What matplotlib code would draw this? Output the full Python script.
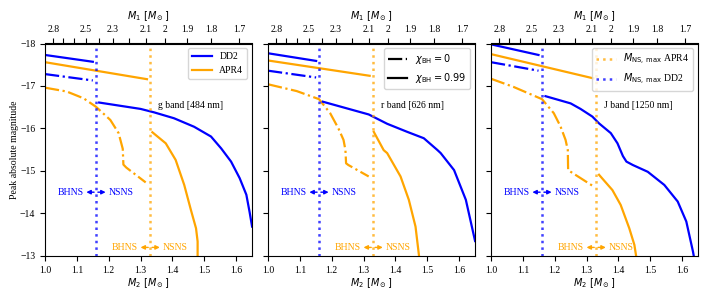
import numpy as np
import matplotlib
matplotlib.use('Agg')
import matplotlib.pyplot as plt

plt.rcParams['font.family'] = ['Liberation Serif', 'DejaVu Serif']
plt.rcParams['font.size'] = 7
plt.rcParams['mathtext.fontset'] = 'dejavusans'

# chirp mass used for the top axis (M1 <-> M2)
MC = 1.44

# thresholds M_NS,max expressed in M2
m2_max_dd2 = 1.16
m2_max_apr4 = 1.33

bands = ['g band [484 nm]', 'r band [626 nm]', 'J band [1250 nm]']

# --- g band ---
g_dd2_bh099_m2 = [1.0, 1.15]
g_dd2_bh099_mag = [-17.73, -17.57]
g_dd2_bh0_m2 = [1.0, 1.15]
g_dd2_bh0_mag = [-17.28, -17.13]
g_apr4_bh099_m2 = [1.0, 1.32]
g_apr4_bh099_mag = [-17.56, -17.16]
g_apr4_bh0_m2 = [1.0, 1.068, 1.121, 1.16, 1.205, 1.231, 1.244, 1.246, 1.255, 1.316]
g_apr4_bh0_mag = [-16.96, -16.87, -16.71, -16.51, -16.2, -15.89, -15.52, -15.15, -15.08, -14.73]
g_dd2_ns_m2 = [1.17, 1.30, 1.342, 1.405, 1.468, 1.521, 1.553, 1.584, 1.611, 1.632, 1.642, 1.65]
g_dd2_ns_mag = [-16.61, -16.46, -16.38, -16.24, -16.04, -15.81, -15.53, -15.22, -14.83, -14.44, -14.04, -13.69]
g_apr4_ns_m2 = [1.337, 1.379, 1.410, 1.437, 1.458, 1.474, 1.479, 1.479, 1.48]
g_apr4_ns_mag = [-15.91, -15.65, -15.26, -14.67, -14.08, -13.65, -13.34, -13.0, -12.8]

# --- r band ---
r_dd2_bh099_m2 = [1.0, 1.151]
r_dd2_bh099_mag = [-17.77, -17.59]
r_dd2_bh0_m2 = [1.0, 1.151]
r_dd2_bh0_mag = [-17.36, -17.20]
r_apr4_bh099_m2 = [1.0, 1.319]
r_apr4_bh099_mag = [-17.60, -17.24]
r_apr4_bh0_m2 = [1.0, 1.09, 1.16, 1.195, 1.221, 1.237, 1.243, 1.245, 1.252, 1.316]
r_apr4_bh0_mag = [-17.04, -16.88, -16.69, -16.36, -16.0, -15.73, -15.49, -15.18, -15.14, -14.87]
r_dd2_ns_m2 = [1.172, 1.316, 1.374, 1.437, 1.489, 1.532, 1.542, 1.584, 1.621, 1.65]
r_dd2_ns_mag = [-16.63, -16.33, -16.11, -15.92, -15.77, -15.49, -15.42, -15.02, -14.32, -13.35]
r_apr4_ns_m2 = [1.332, 1.363, 1.374, 1.416, 1.442, 1.463, 1.474, 1.478]
r_apr4_ns_mag = [-15.92, -15.49, -15.42, -14.87, -14.32, -13.69, -13.0, -12.8]

# --- J band ---
j_dd2_bh099_m2 = [1.0, 1.149]
j_dd2_bh099_mag = [-17.98, -17.73]
j_dd2_bh0_m2 = [1.0, 1.149]
j_dd2_bh0_mag = [-17.56, -17.36]
j_apr4_bh099_m2 = [1.0, 1.321]
j_apr4_bh099_mag = [-17.75, -17.18]
j_apr4_bh0_m2 = [1.0, 1.07, 1.16, 1.197, 1.218, 1.234, 1.241, 1.242, 1.25, 1.323]
j_apr4_bh0_mag = [-17.17, -16.98, -16.69, -16.36, -16.05, -15.73, -15.49, -15.02, -14.98, -14.63]
j_dd2_ns_m2 = [1.171, 1.25, 1.281, 1.318, 1.339, 1.376, 1.397, 1.414, 1.425, 1.445, 1.492, 1.544, 1.586, 1.613, 1.634, 1.64]
j_dd2_ns_mag = [-16.76, -16.59, -16.46, -16.28, -16.12, -15.89, -15.65, -15.35, -15.22, -15.14, -14.98, -14.67, -14.28, -13.81, -13.10, -12.85]
j_apr4_ns_m2 = [1.339, 1.381, 1.407, 1.434, 1.450, 1.455, 1.46]
j_apr4_ns_mag = [-14.91, -14.55, -14.20, -13.65, -13.26, -13.02, -12.85]

panels = [
    (g_dd2_bh099_m2, g_dd2_bh099_mag, g_dd2_bh0_m2, g_dd2_bh0_mag,
     g_apr4_bh099_m2, g_apr4_bh099_mag, g_apr4_bh0_m2, g_apr4_bh0_mag,
     g_dd2_ns_m2, g_dd2_ns_mag, g_apr4_ns_m2, g_apr4_ns_mag),
    (r_dd2_bh099_m2, r_dd2_bh099_mag, r_dd2_bh0_m2, r_dd2_bh0_mag,
     r_apr4_bh099_m2, r_apr4_bh099_mag, r_apr4_bh0_m2, r_apr4_bh0_mag,
     r_dd2_ns_m2, r_dd2_ns_mag, r_apr4_ns_m2, r_apr4_ns_mag),
    (j_dd2_bh099_m2, j_dd2_bh099_mag, j_dd2_bh0_m2, j_dd2_bh0_mag,
     j_apr4_bh099_m2, j_apr4_bh099_mag, j_apr4_bh0_m2, j_apr4_bh0_mag,
     j_dd2_ns_m2, j_dd2_ns_mag, j_apr4_ns_m2, j_apr4_ns_mag),
]

top_ticks = [2.8, 2.7, 2.6, 2.5, 2.4, 2.3, 2.2, 2.1, 2.0, 1.9, 1.8, 1.7]
top_labels = ['2.8', '', '', '2.5', '', '2.3', '', '2.1', '2', '1.9', '1.8', '1.7']
bottom_ticks = [1.0, 1.1, 1.2, 1.3, 1.4, 1.5, 1.6]

# partner mass at fixed chirp mass (the map is its own inverse)
q = np.linspace(0.2, 5, 4000)
m_a = MC * (1 + q) ** 0.2 / q ** 0.6
m_b = q * m_a


def partner(m):
    return np.interp(m, m_b, m_a)


fig, axes = plt.subplots(1, 3, sharey=True, figsize=(7.08, 3.0), dpi=100)
fig.subplots_adjust(left=0.0636, right=0.986, bottom=0.147, top=0.855, wspace=0.077)

lw = 1.6
for i, ax in enumerate(axes):
    (d99x, d99y, d0x, d0y, a99x, a99y, a0x, a0y, dnx, dny, anx, any_) = panels[i]
    ax.plot(d99x, d99y, color='blue', lw=lw, label='DD2')
    ax.plot(a99x, a99y, color='orange', lw=lw, label='APR4')
    ax.plot(d0x, d0y, color='blue', lw=lw, ls='-.')
    ax.plot(a0x, a0y, color='orange', lw=lw, ls='-.')
    ax.plot(dnx, dny, color='blue', lw=lw)
    ax.plot(anx, any_, color='orange', lw=lw)

    ax.axvline(m2_max_apr4, color='orange', ls=':', lw=1.8, alpha=0.75,
               label=r'$M_{\rm NS,\,max}$ APR4')
    ax.axvline(m2_max_dd2, color='blue', ls=':', lw=1.8, alpha=0.75,
               label=r'$M_{\rm NS,\,max}$ DD2')

    for xl, yl, c in [(m2_max_dd2, -14.5, 'blue'), (m2_max_apr4, -13.2, 'orange')]:
        ax.annotate('BHNS', xy=(xl - 0.006, yl), xytext=(xl - 0.039, yl),
                    ha='right', va='center', color=c,
                    arrowprops=dict(arrowstyle='<|-', color=c, lw=1.0,
                                    shrinkA=0, shrinkB=0, mutation_scale=6))
        ax.annotate('NSNS', xy=(xl + 0.006, yl), xytext=(xl + 0.039, yl),
                    ha='left', va='center', color=c,
                    arrowprops=dict(arrowstyle='<|-', color=c, lw=1.0,
                                    shrinkA=0, shrinkB=0, mutation_scale=6))

    ax.text(1.355, -16.55, bands[i], ha='left', va='center')

    ax.set_xlim(1.0, 1.65)
    ax.set_ylim(-13, -18)
    ax.set_xticks(bottom_ticks)
    ax.set_xlabel(r'$M_2\ [M_\odot]$', labelpad=1)

    sec = ax.secondary_xaxis('top', functions=(partner, partner))
    sec.set_xticks(top_ticks, labels=top_labels)
    sec.set_xlabel(r'$M_1\ [M_\odot]$')

axes[0].set_ylabel('Peak absolute magnitude', labelpad=1)

h, l = axes[0].get_legend_handles_labels()
axes[0].legend(h[:2], l[:2], loc='upper right')

chi_handles = [plt.Line2D([], [], color='black', lw=lw, ls='-.'),
               plt.Line2D([], [], color='black', lw=lw)]
axes[1].legend(chi_handles, [r'$\chi_{\rm BH} = 0$', r'$\chi_{\rm BH} = 0.99$'],
               loc='upper right')

h, l = axes[2].get_legend_handles_labels()
axes[2].legend(h[2:], l[2:], loc='upper right')

fig.savefig('out.png', dpi=100)
